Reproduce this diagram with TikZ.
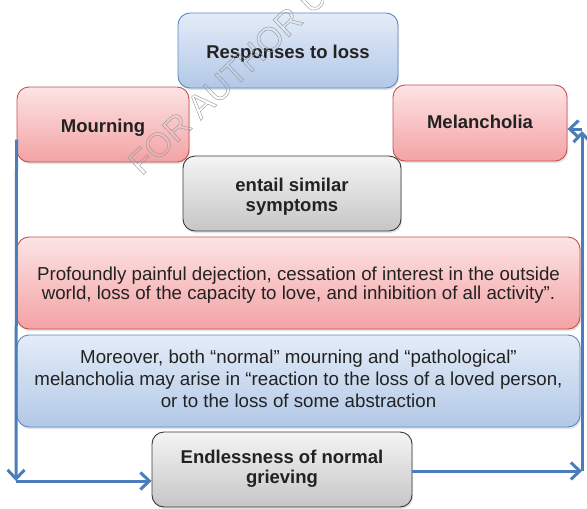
\documentclass[tikz,border=0pt]{standalone}
\usepackage{fontspec}
\setmainfont{Liberation Sans}
\usetikzlibrary{arrows.meta,shadows}

\definecolor{bluetop}{HTML}{E4ECF8}
\definecolor{bluebot}{HTML}{B2C8E7}
\definecolor{blueline}{HTML}{5A8AC6}
\definecolor{redtop}{HTML}{FDE4E5}
\definecolor{redbot}{HTML}{F3A2A4}
\definecolor{redline}{HTML}{C4524F}
\definecolor{graytop}{HTML}{F4F4F4}
\definecolor{graybot}{HTML}{C6C6C6}
\definecolor{grayline}{HTML}{3A3A3A}
\definecolor{flow}{HTML}{4A7EBB}
\definecolor{txt}{HTML}{222222}

% lower a block of centred lines without changing its box
\newcommand\lowered[2]{\raisebox{-#1}[\height][\depth]{\begin{tabular}{@{}c@{}}#2\end{tabular}}}

\tikzset{
  panel/.style={rounded corners=12pt, line width=0.9pt, inner sep=0pt,
    align=center, text=txt,
    font=\fontsize{18.7}{21.5}\selectfont,
    drop shadow={opacity=0.22, shadow xshift=1.2pt, shadow yshift=-2pt}},
  bluepanel/.style={panel, draw=blueline, top color=bluetop, bottom color=bluebot},
  redpanel/.style={panel, draw=redline, top color=redtop, bottom color=redbot},
  graypanel/.style={panel, draw=grayline, top color=graytop, bottom color=graybot},
  heading/.style={font=\fontsize{18.5}{21.5}\selectfont\bfseries},
  flowline/.style={draw=flow, line width=3pt,
    -{Straight Barb[length=9pt,width=17pt,line width=3pt]}},
}

\begin{document}
\begin{tikzpicture}[x=1pt,y=-1pt]
\useasboundingbox (0,0) rectangle (587,509);
\renewcommand\arraystretch{0.9}

% boxes
\node[bluepanel, heading, minimum width=220, minimum height=75] (top) at (288,50.5)
  {\lowered{4pt}{Responses to loss}};
\node[redpanel, heading, minimum width=172, minimum height=75] (mourn) at (103,124.5)
  {\lowered{4pt}{Mourning}};
\node[redpanel, heading, minimum width=174, minimum height=76] (mel) at (480,123)
  {\lowered{1.5pt}{Melancholia}};
\node[graypanel, heading, minimum width=218, minimum height=75] (entail) at (292,193.5)
  {\lowered{4pt}{entail similar\\symptoms}};
\node[redpanel, minimum width=563, minimum height=92] (desc) at (298.5,283)
  {\lowered{3pt}{Profoundly painful dejection, cessation of interest in the outside\\world, loss of the capacity to love, and inhibition of all activity”.}};
\node[bluepanel, minimum width=563, minimum height=92] (both) at (298.5,381)
  {\renewcommand\arraystretch{1.02}\lowered{0pt}{Moreover, both “normal” mourning and “pathological”\\melancholia may arise in “reaction to the loss of a loved person,\\or to the loss of some abstraction}};
\node[graypanel, heading, minimum width=260, minimum height=75] (endl) at (282,469.5)
  {\lowered{0pt}{Endlessness of normal\\grieving}};

% connectors
\coordinate (lc) at (16,481);
\coordinate (rc) at (582,471);
\coordinate (ru) at (582,131);
\coordinate (rt) at (582,129);
\draw[flowline] ([xshift=0pt,yshift=-15pt]mourn.west) -- (lc);
\draw[flowline] (lc) -- (endl.west |- lc);
\draw[flowline] (endl.east |- rc) -- (rc);
\draw[flowline] (rc) -- (ru);
\draw[flowline] (rt) -- (mel.east |- rt);

% watermark, hollow letters
\node[rotate=43.5, anchor=south west, inner sep=0pt, text=black!40,
  font=\fontsize{34}{34}\selectfont] (wm) at (142,177)
  {\special{pdf:literal direct 1 Tr 0.45 w}FOR AUTHOR U\special{pdf:literal direct 0 Tr}};
\end{tikzpicture}
\end{document}
